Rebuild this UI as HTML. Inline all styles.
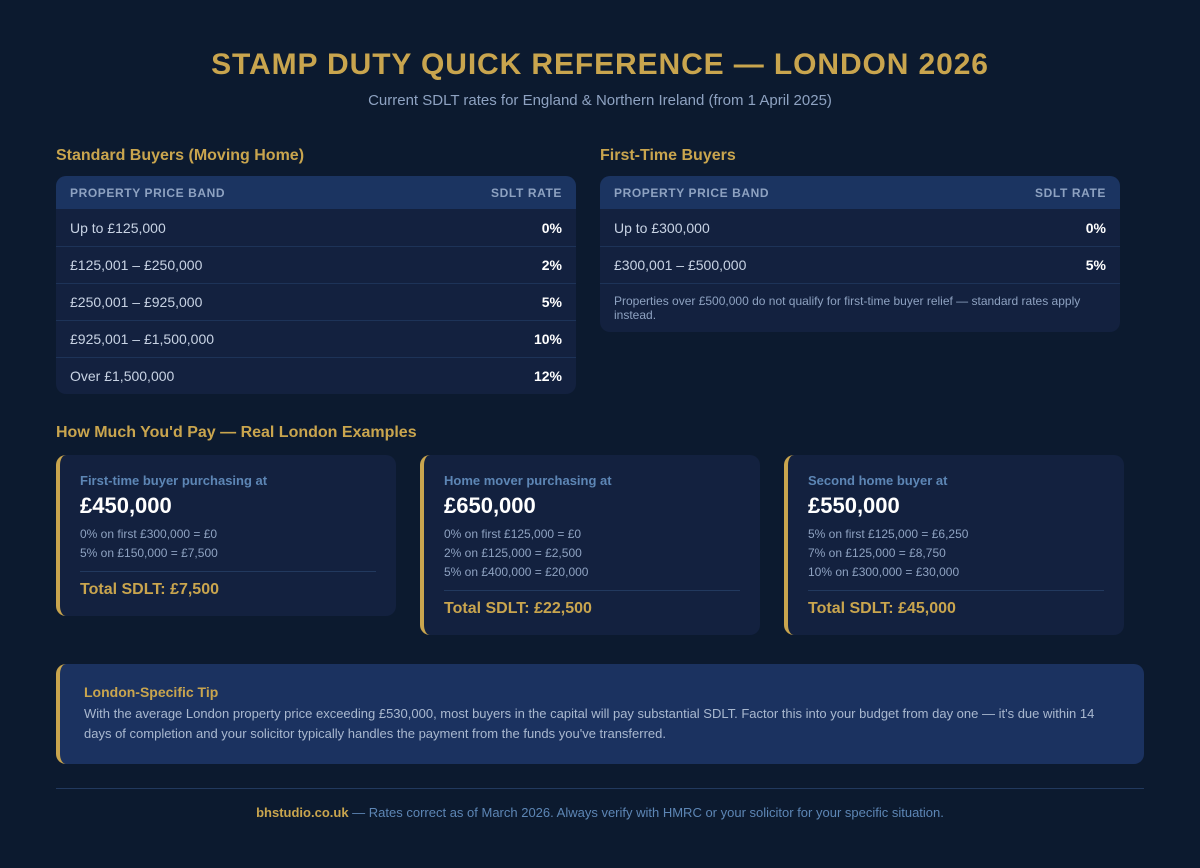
<!DOCTYPE html><html><head><meta charset="utf-8"><style>
*{margin:0;padding:0;box-sizing:border-box}
body{width:1200px;height:868px;background:#0c1a2f;font-family:"Liberation Sans",sans-serif;color:#c8d3e4;position:relative;overflow:hidden}
.abs{position:absolute}
h1{position:absolute;top:48px;left:0;width:1200px;text-align:center;color:#c9a54e;font-size:30px;letter-spacing:0.9px;font-weight:bold}
.sub{top:92px;left:0;width:1200px;text-align:center;color:#8ea2c1;font-size:15px}
.sh{color:#c9a54e;font-size:16px;font-weight:bold}
.tbl{background:#13213f;border-radius:10px;overflow:hidden;width:520px}
.hd{background:#1b3461;height:33px;display:flex;justify-content:space-between;align-items:center;padding:0 14px;font-size:12px;font-weight:bold;color:#8ea2c1;letter-spacing:.6px}
.r{height:37px;display:flex;justify-content:space-between;align-items:center;padding:0 14px;font-size:14px;color:#c8d3e4;border-top:1px solid #1d3358}
.r b{color:#fff}
.note{font-size:12px;color:#8ea2c1;padding:10px 14px;border-top:1px solid #1d3358;line-height:14px}
.card{background:#13213f;border-radius:10px;border-left:4px solid #c9a54e;width:340px;top:455px;padding:18px 20px 17px 20px}
.cl{color:#5d86b5;font-size:13px;font-weight:bold}
.cp{color:#fff;font-size:22px;font-weight:bold;margin-top:5px}
.cd{color:#8ea2c1;font-size:12px;line-height:19px;margin-top:6px}
.ct{border-top:1px solid #22395e;margin-top:8px;padding-top:9px;color:#c9a54e;font-size:16px;font-weight:bold}
.tip{left:56px;top:664px;width:1088px;height:100px;background:#1b3260;border-radius:10px;border-left:4px solid #c9a54e;padding:20px 24px}
</style></head><body>
<h1>STAMP DUTY QUICK REFERENCE — LONDON 2026</h1>
<div class="abs sub">Current SDLT rates for England &amp; Northern Ireland (from 1 April 2025)</div>
<div class="abs sh" style="left:56px;top:147px">Standard Buyers (Moving Home)</div>
<div class="abs sh" style="left:600px;top:147px">First-Time Buyers</div>
<div class="abs tbl" style="left:56px;top:176px">
<div class="hd"><span>PROPERTY PRICE BAND</span><span>SDLT RATE</span></div>
<div class="r" style="border-top:none"><span>Up to £125,000</span><b>0%</b></div>
<div class="r"><span>£125,001 – £250,000</span><b>2%</b></div>
<div class="r"><span>£250,001 – £925,000</span><b>5%</b></div>
<div class="r"><span>£925,001 – £1,500,000</span><b>10%</b></div>
<div class="r"><span>Over £1,500,000</span><b>12%</b></div>
</div>
<div class="abs tbl" style="left:600px;top:176px">
<div class="hd"><span>PROPERTY PRICE BAND</span><span>SDLT RATE</span></div>
<div class="r" style="border-top:none"><span>Up to £300,000</span><b>0%</b></div>
<div class="r"><span>£300,001 – £500,000</span><b>5%</b></div>
<div class="note">Properties over £500,000 do not qualify for first-time buyer relief — standard rates apply instead.</div>
</div>
<div class="abs sh" style="left:56px;top:424px">How Much You'd Pay — Real London Examples</div>
<div class="abs card" style="left:56px"><div class="cl">First-time buyer purchasing at</div><div class="cp">£450,000</div><div class="cd">0% on first £300,000 = £0<br>5% on £150,000 = £7,500</div><div class="ct">Total SDLT: £7,500</div></div>
<div class="abs card" style="left:420px"><div class="cl">Home mover purchasing at</div><div class="cp">£650,000</div><div class="cd">0% on first £125,000 = £0<br>2% on £125,000 = £2,500<br>5% on £400,000 = £20,000</div><div class="ct">Total SDLT: £22,500</div></div>
<div class="abs card" style="left:784px"><div class="cl">Second home buyer at</div><div class="cp">£550,000</div><div class="cd">5% on first £125,000 = £6,250<br>7% on £125,000 = £8,750<br>10% on £300,000 = £30,000</div><div class="ct">Total SDLT: £45,000</div></div>
<div class="abs tip"><div style="color:#c9a54e;font-size:14px;font-weight:bold">London-Specific Tip</div><div style="color:#a9b8cf;font-size:13px;line-height:20px;margin-top:4px">With the average London property price exceeding £530,000, most buyers in the capital will pay substantial SDLT. Factor this into your budget from day one — it's due within 14 days of completion and your solicitor typically handles the payment from the funds you've transferred.</div></div>
<div class="abs" style="left:56px;top:788px;width:1088px;border-top:1px solid #22395e"></div>
<div class="abs" style="top:805px;left:0;width:1200px;text-align:center;font-size:13px;color:#5d86b5"><b style="color:#c9a54e">bhstudio.co.uk</b> — Rates correct as of March 2026. Always verify with HMRC or your solicitor for your specific situation.</div>
</body></html>
